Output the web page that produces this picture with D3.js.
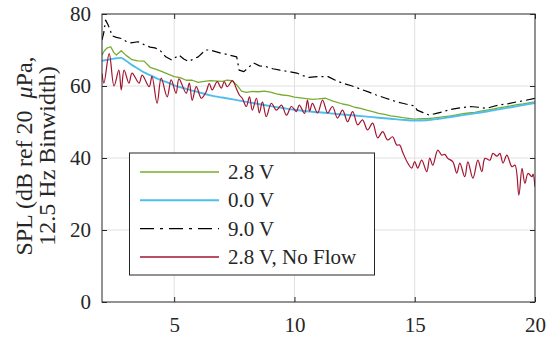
<!DOCTYPE html>
<html><head><meta charset="utf-8">
<script src="https://cdn.jsdelivr.net/npm/d3@7"></script>
<style>body{margin:0;background:#fff}svg{display:block}text{font-family:"Liberation Serif","Times New Roman",serif;fill:#262626}</style>
</head><body><div id="c"></div>
<script>
const xTicks=[5,10,15,20];
const yTicks=[0,20,40,60,80];
const seriesNames=["2.8 V","0.0 V","9.0 V","2.8 V, No Flow"];
const seriesColors=["#77AC30","#4DBEEE","#000000","#A2142F"];

const greenF=[2,2.1,2.2,2.36,2.5,2.6,2.8,3.0,3.25,3.5,3.75,4.0,4.25,4.5,4.75,5,5.25,5.5,5.75,6,6.25,6.5,7,7.2,7.4,7.6,7.8,8,8.25,8.5,8.75,9,9.25,9.5,9.75,10,10.25,10.5,10.75,11,11.3,11.6,12,12.25,12.5,12.75,13,13.25,13.5,13.75,14,14.25,14.5,14.75,15,15.25,15.5,15.75,16,16.25,16.5,16.75,17,17.25,17.5,17.75,18,18.25,18.5,18.75,19,19.25,19.5,19.75,20];
const greenV=[68.6,69.8,70.5,70.9,69.2,68.6,69.8,68.5,67.3,67.0,66.9,65.2,64.6,64.0,63.3,62.6,62.3,61.6,61.6,61.0,61.3,61.5,61.3,61.6,61.5,60.3,58.6,58.2,58.5,58.4,58.6,58.3,57.8,57.5,57.3,56.9,56.7,56.5,56.3,56.4,56.6,55.8,55.0,54.7,54.1,53.8,53.3,52.9,52.4,52.1,51.7,51.5,51.2,51.0,50.8,50.9,50.9,51.1,51.3,51.5,51.7,52.0,52.3,52.5,52.7,53.0,53.3,53.6,53.9,54.2,54.5,54.8,55.0,55.3,55.6];

const blueF=[2,2.25,2.5,2.8,3,3.25,3.5,3.75,4,4.25,4.5,4.75,5,5.5,6,6.5,7,7.5,8,8.5,9,9.5,10,10.5,11,11.5,12,12.5,13,13.5,14,14.5,15,15.5,16,16.5,17,17.5,18,18.5,19,19.5,20];
const blueV=[67.0,67.3,67.6,67.8,67.0,65.8,64.8,63.8,63.0,62.2,61.5,60.9,60.2,59.2,58.3,57.4,56.8,56.2,55.6,55.0,54.4,53.9,53.4,53.0,52.7,52.4,52.1,51.8,51.5,51.2,50.9,50.6,50.4,50.5,50.9,51.4,51.9,52.4,52.9,53.5,54.1,54.7,55.3];

const blackF=[2,2.08,2.15,2.25,2.35,2.4,2.6,2.8,3.0,3.2,3.5,3.75,4.0,4.2,4.4,4.65,4.9,5.2,5.4,5.6,5.8,6.0,6.3,6.5,6.9,7.3,7.6,7.7,7.9,8.1,8.3,8.55,8.8,9.1,9.4,9.75,10.1,10.35,10.6,11.0,11.4,11.7,12.0,12.4,12.85,13.1,13.4,13.8,14.25,14.5,14.8,15.0,15.1,15.35,15.6,15.9,16.2,16.5,16.75,17.0,17.3,17.65,18.0,18.25,18.5,18.9,19.25,19.6,20];
const blackV=[72.8,75.0,78.3,77.0,75.5,74.0,73.5,73.2,72.4,72.0,72.3,71.5,70.8,70.6,70.0,68.1,67.2,68.6,67.5,66.8,67.5,68.1,70.0,70.0,69.2,68.6,68.1,64.4,64.0,65.2,66.4,65.6,65.4,64.8,64.4,64.0,63.6,62.9,62.4,62.6,62.6,61.6,60.8,60.0,58.9,58.3,57.5,56.6,55.6,55.2,54.7,54.5,53.3,52.6,51.9,52.4,52.9,53.5,53.8,54.0,54.3,54.1,53.8,54.3,54.7,55.1,55.6,56.0,56.6];

const redF=[2,2.08,2.3,2.5,2.7,2.8,2.92,3.12,3.25,3.54,3.67,3.96,4.08,4.29,4.46,4.71,4.875,5.08,5.2,5.5,5.63,5.75,5.92,6.13,6.33,6.46,6.58,6.79,6.96,7.08,7.21,7.42,7.58,7.71,7.83,8.0,8.13,8.25,8.42,8.54,8.67,8.83,9.04,9.25,9.46,9.67,9.875,10.08,10.2,10.42,10.54,10.63,10.75,10.96,11.17,11.38,11.58,11.79,12.0,12.21,12.42,12.63,12.83,13.04,13.25,13.46,13.67,13.875,14.08,14.25,14.375,14.5,14.71,14.875,15.0,15.125,15.29,15.5,15.625,15.75,15.96,16.125,16.25,16.375,16.58,16.75,16.875,17.08,17.21,17.42,17.625,17.79,17.92,18.125,18.25,18.42,18.54,18.67,18.83,19.04,19.17,19.33,19.46,19.58,19.71,19.875,19.92,20];
const redV=[63.5,60.8,69.0,60.0,64.4,58.9,64.4,60.8,63.6,60.8,63.0,59.8,62.7,55.2,62.2,57.0,61.7,58.0,62.0,58.0,60.8,56.0,59.8,56.6,58.4,60.7,58.9,61.2,59.4,61.2,59.8,61.5,59.4,57.5,56.6,54.3,57.0,53.3,56.6,52.5,55.6,51.5,55.2,53.3,54.7,51.9,54.3,52.9,54.7,52.4,56.1,53.0,55.2,52.5,56.1,52.5,54.3,51.1,53.3,50.1,52.9,49.2,50.6,47.8,49.7,45.6,47.3,45.0,45.9,43.6,43.6,41.6,38.6,37.2,39.0,37.2,39.4,36.2,40.0,38.0,42.2,40.8,41.0,39.9,39.0,35.8,38.6,34.8,38.9,34.4,39.4,36.2,39.9,39.4,41.3,40.5,41.3,38.6,40.8,37.6,38.0,29.7,37.1,33.0,35.7,34.8,35.5,32.0];

const W=546,H=342;
const m={l:102,r:535,t:14,b:302};
const svg=d3.select("#c").append("svg").attr("width",W).attr("height",H);
const x=d3.scaleLinear().domain([2,20]).range([m.l,m.r]);
const y=d3.scaleLinear().domain([0,80]).range([m.b,m.t]);

// grid
const g=svg.append("g");
g.selectAll(".gx").data(xTicks.filter(d=>d<20)).enter().append("line")
 .attr("x1",d=>x(d)).attr("x2",d=>x(d)).attr("y1",m.t).attr("y2",m.b)
 .attr("stroke","#e0e0e0").attr("stroke-width",1);
g.selectAll(".gy").data(yTicks.filter(d=>d>0&&d<80)).enter().append("line")
 .attr("y1",d=>y(d)).attr("y2",d=>y(d)).attr("x1",m.l).attr("x2",m.r)
 .attr("stroke","#e0e0e0").attr("stroke-width",1);

svg.append("clipPath").attr("id","cp").append("rect")
 .attr("x",m.l).attr("y",m.t).attr("width",m.r-m.l).attr("height",m.b-m.t);

const zip=(a,b)=>a.map((v,i)=>[v,b[i]]);
const plot=svg.append("g").attr("clip-path","url(#cp)");
const series=[
 {f:greenF,v:greenV,c:seriesColors[0],w:1.3,dash:null,curve:d3.curveLinear},
 {f:blueF,v:blueV,c:seriesColors[1],w:1.9,dash:null,curve:d3.curveMonotoneX},
 {f:blackF,v:blackV,c:seriesColors[2],w:1.2,dash:"9,4,2,4",curve:d3.curveLinear},
 {f:redF,v:redV,c:seriesColors[3],w:1.2,dash:null,curve:d3.curveCatmullRom.alpha(0.5)}
];
[0,1,3,2].forEach(i=>{
 const s=series[i];
 const line=d3.line().x(d=>x(d[0])).y(d=>y(d[1])).curve(s.curve);
 plot.append("path").datum(zip(s.f,s.v)).attr("d",line)
  .attr("fill","none").attr("stroke",s.c).attr("stroke-width",s.w)
  .attr("stroke-linejoin","round")
  .attr("stroke-dasharray",s.dash);
});

// axes
const FS="21px";
const ax=d3.axisBottom(x).tickValues(xTicks).tickSize(-5).tickPadding(15).tickFormat(d3.format("d"));
const ay=d3.axisLeft(y).tickValues(yTicks).tickSize(-5).tickPadding(11).tickFormat(d3.format("d"));
const axT=d3.axisTop(x).tickValues(xTicks).tickSize(-5).tickFormat("");
const ayR=d3.axisRight(y).tickValues(yTicks).tickSize(-5).tickFormat("");
function style(sel){sel.selectAll("line").attr("stroke","#262626").attr("stroke-width",1);
 sel.selectAll("text").attr("font-size",FS).attr("fill","#262626");}
svg.append("g").attr("transform",`translate(0,${m.b})`).call(ax).call(style);
svg.append("g").attr("transform",`translate(${m.l},0)`).call(ay).call(style);
svg.append("g").attr("transform",`translate(0,${m.t})`).call(axT).call(style);
svg.append("g").attr("transform",`translate(${m.r},0)`).call(ayR).call(style);
svg.selectAll(".domain").remove();
svg.append("rect").attr("x",m.l).attr("y",m.t).attr("width",m.r-m.l).attr("height",m.b-m.t)
 .attr("fill","none").attr("stroke","#262626").attr("stroke-width",1);

// y label
const yl=svg.append("text").attr("transform","translate(0,156) rotate(-90)")
 .attr("text-anchor","middle").attr("font-size","24px");
const t1=yl.append("tspan").attr("x",0).attr("y",32).text("SPL (dB ref 20 \u00A0");
t1.append("tspan").attr("font-style","italic").text("\u03BC");
t1.append("tspan").text("Pa,");
yl.append("tspan").attr("x",0).attr("y",55).text("12.5 Hz Binwidth)");

// legend
const lg=svg.append("g");
lg.append("rect").attr("x",129.5).attr("y",153).attr("width",245).attr("height",122)
 .attr("fill","#fff").attr("stroke","#262626").attr("stroke-width",1);
const rowY=[172,200.3,228.6,257];
seriesNames.forEach((n,i)=>{
 lg.append("line").attr("x1",140).attr("x2",219).attr("y1",rowY[i]).attr("y2",rowY[i])
  .attr("stroke",seriesColors[i]).attr("stroke-width",i==1?1.9:1.3)
  .attr("stroke-dasharray",i==2?"14,6,3,6":null);
 lg.append("text").attr("x",228).attr("y",rowY[i]+7).attr("font-size","21px").text(n);
});
</script></body></html>
